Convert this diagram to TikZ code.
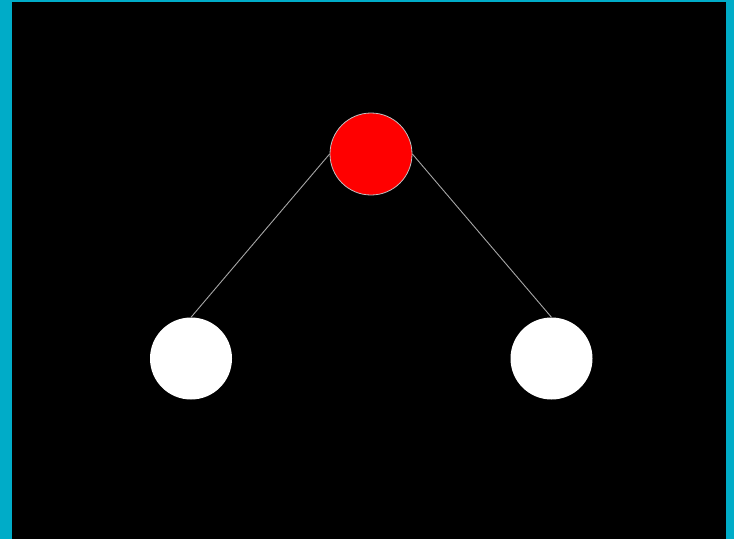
\documentclass[tikz,border=0pt]{standalone}
\begin{document}
\begin{tikzpicture}[x=1pt,y=-1pt,
  ball/.style={circle, minimum size=82pt, inner sep=0pt},
  redball/.style={ball, fill=red, draw=gray!50, line width=0.8pt},
  whiteball/.style={ball, fill=white},
  link/.style={draw=gray!70, line width=0.9pt}]
\useasboundingbox (0,0) rectangle (734,539);
\fill[cyan!70!blue!80!white, fill={rgb,255:red,0;green,172;blue,200}] (0,0) rectangle (734,539);
\fill[black] (12,2) rectangle (726,539);
\node[redball] (top) at (371,154) {};
\node[whiteball] (left) at (191,358.5) {};
\node[whiteball] (right) at (551.5,358.5) {};
\draw[link] (top.west) -- (left.north);
\draw[link] (top.east) -- (right.north);
\end{tikzpicture}
\end{document}
